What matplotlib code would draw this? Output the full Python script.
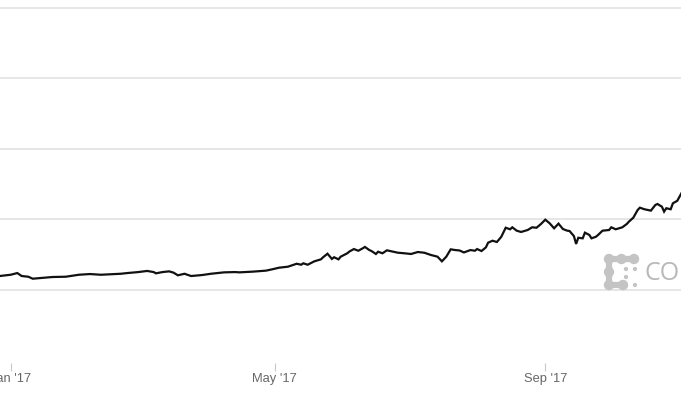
import matplotlib
matplotlib.use("Agg")
import matplotlib.pyplot as plt
import matplotlib.dates as mdates
import pandas as pd
from matplotlib.patches import Circle
from matplotlib.lines import Line2D

# ---- data ----
dates = [
    "2016-12-27", "2017-01-01", "2017-01-04", "2017-01-06", "2017-01-09", "2017-01-11",
    "2017-01-16", "2017-01-20", "2017-01-26", "2017-02-01", "2017-02-06", "2017-02-11",
    "2017-02-15", "2017-02-20", "2017-02-23", "2017-02-28", "2017-03-04", "2017-03-07",
    "2017-03-08", "2017-03-11", "2017-03-14", "2017-03-16", "2017-03-18", "2017-03-21",
    "2017-03-24", "2017-03-29", "2017-04-02", "2017-04-08", "2017-04-13", "2017-04-15",
    "2017-04-21", "2017-04-27", "2017-04-30", "2017-05-03", "2017-05-07", "2017-05-11",
    "2017-05-13", "2017-05-14", "2017-05-16", "2017-05-19", "2017-05-22", "2017-05-23",
    "2017-05-25", "2017-05-27", "2017-05-28", "2017-05-30", "2017-05-31", "2017-06-03",
    "2017-06-04", "2017-06-06", "2017-06-08", "2017-06-10", "2017-06-11", "2017-06-13",
    "2017-06-14", "2017-06-16", "2017-06-17", "2017-06-19", "2017-06-21", "2017-06-23",
    "2017-06-26", "2017-06-29", "2017-07-02", "2017-07-05", "2017-07-08", "2017-07-11",
    "2017-07-14", "2017-07-16", "2017-07-18", "2017-07-20", "2017-07-22", "2017-07-24",
    "2017-07-26", "2017-07-29", "2017-07-31", "2017-08-01", "2017-08-03", "2017-08-05",
    "2017-08-06", "2017-08-08", "2017-08-10", "2017-08-12", "2017-08-14", "2017-08-16",
    "2017-08-17", "2017-08-19", "2017-08-21", "2017-08-24", "2017-08-26", "2017-08-28",
    "2017-08-30", "2017-09-01", "2017-09-03", "2017-09-05", "2017-09-07", "2017-09-09",
    "2017-09-11", "2017-09-12", "2017-09-14", "2017-09-15", "2017-09-16", "2017-09-18",
    "2017-09-19", "2017-09-21", "2017-09-22", "2017-09-24", "2017-09-25", "2017-09-27",
    "2017-09-30", "2017-10-01", "2017-10-03", "2017-10-06", "2017-10-08", "2017-10-09",
    "2017-10-11", "2017-10-13", "2017-10-14", "2017-10-16", "2017-10-19", "2017-10-21",
    "2017-10-22", "2017-10-24", "2017-10-25", "2017-10-26", "2017-10-28", "2017-10-29",
    "2017-10-31", "2017-11-02", "2017-11-04",
]
prices = [
    990, 1080, 1200, 990, 940, 800,
    870, 920, 940, 1080, 1130, 1080,
    1110, 1150, 1200, 1270, 1350, 1270,
    1180, 1270, 1320, 1230, 1040, 1150,
    990, 1060, 1150, 1250, 1270, 1250,
    1300, 1370, 1470, 1580, 1650, 1860,
    1790, 1890, 1790, 2030, 2170, 2320,
    2570, 2200, 2320, 2170, 2360, 2600,
    2730, 2900, 2780, 2950, 3050, 2830,
    2760, 2550, 2710, 2600, 2810, 2740,
    2640, 2600, 2550, 2690, 2640, 2480,
    2360, 2030, 2360, 2880, 2830, 2800,
    2660, 2830, 2780, 2900, 2760, 3020,
    3350, 3490, 3400, 3770, 4410, 4300,
    4440, 4200, 4110, 4250, 4440, 4410,
    4670, 4980, 4720, 4370, 4700, 4320,
    4200, 4180, 3820, 3260, 3700, 3660,
    4060, 3900, 3660, 3770, 3900, 4200,
    4250, 4440, 4300, 4440, 4670, 4840,
    5120, 5670, 5830, 5720, 5620, 6020,
    6090, 5900, 5550, 5790, 5720, 6140,
    6320, 6890, 7200,
]
y_grid = [0, 5000, 10000, 15000, 20000]
tick_dates = ["2017-01-01", "2017-05-01", "2017-09-01"]
tick_labels = ["Jan '17", "May '17", "Sep '17"]

# ---- figure ----
W, H = 681, 400
fig = plt.figure(figsize=(W / 100, H / 100), dpi=100)
fig.patch.set_facecolor("white")
ax = fig.add_axes([0, (H - 363) / H, 1, 363 / H])
ax.set_facecolor("white")

x = pd.to_datetime(dates)
ax.plot(x, prices, color="#111111", lw=1.6, solid_joinstyle="miter", zorder=3)

# scales
jan1 = mdates.date2num(pd.Timestamp("2017-01-01"))
px_per_day = 2.2
ax.set_xlim(jan1 - 10.7 / px_per_day, jan1 + (W - 10.7) / px_per_day)
usd_per_px = 5000 / 70.6
ax.set_ylim(-73 * usd_per_px, 290 * usd_per_px)

# grid
ax.set_yticks(y_grid)
ax.yaxis.grid(True, color="#e2e2e2", lw=1.2, zorder=0)
ax.tick_params(axis="y", left=False, labelleft=False)
for s in ax.spines.values():
    s.set_visible(False)

ax.set_xticks(pd.to_datetime(tick_dates))
ax.set_xticklabels(tick_labels, fontfamily="Liberation Sans", fontsize=9.3, color="#666666")
ax.tick_params(axis="x", direction="out", length=5.5, width=0.8, color="#c8c8c8", pad=1.5)

# ---- watermark (logo + partial text) ----
def fx(px):
    return px / W

def fy(py):
    return 1 - py / H

logo_col = "#c4c4c4"
path_pts = [(634, 259), (609, 259), (609, 285), (623, 285)]
fig.add_artist(Line2D([fx(p[0]) for p in path_pts], [fy(p[1]) for p in path_pts],
                      transform=fig.transFigure, color=logo_col, lw=4.5,
                      solid_joinstyle="round", solid_capstyle="round", zorder=4))
for cx, cy in [(609, 259), (621.5, 259), (634, 259), (609, 272), (609, 285), (623, 285)]:
    fig.add_artist(Circle((cx, H - cy), 4.5, transform=None, color=logo_col, zorder=5))
for cx, cy in [(626, 269), (635, 269), (626, 277), (635, 285)]:
    fig.add_artist(Circle((cx, H - cy), 1.4, transform=None, color=logo_col, zorder=5))
fig.text(fx(645), fy(273), "CO", fontfamily="Open Sans", fontsize=18,
         color="#b8b8b8", ha="left", va="center", zorder=5)

fig.savefig("out.png", dpi=100, facecolor="white")
